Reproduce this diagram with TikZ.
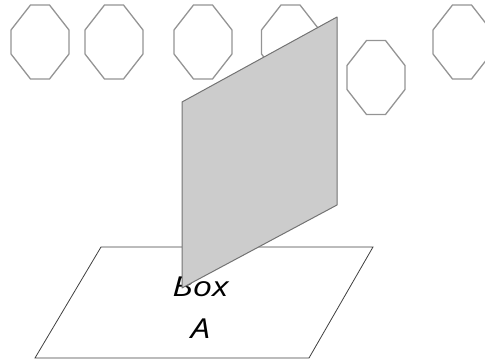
\documentclass[tikz,border=0pt]{standalone}
\usepackage{fontspec}
\setmainfont{Open Sans}
\begin{document}
\begin{tikzpicture}[x=1pt,y=-1pt,
  oct/.style={draw=black!42,line width=1.3pt,line join=round},
  plate/.style={draw=black!75,line width=0.8pt,fill=white},
  panel/.style={draw=black!55,line width=1pt,fill=black!20,line join=round}]
\useasboundingbox (0,0) rectangle (485,363);
\def\octagon#1#2{\draw[oct] (#1-9.5,#2-37) -- (#1+9.5,#2-37) -- (#1+29,#2-12) -- (#1+29,#2+12) -- (#1+9.5,#2+37) -- (#1-9.5,#2+37) -- (#1-29,#2+12) -- (#1-29,#2-12) -- cycle;}
\octagon{40}{42}
\octagon{114}{42}
\octagon{203}{42}
\octagon{290.5}{42}
\octagon{376}{77.5}
\octagon{462}{42}
\draw[plate] (101,247) -- (373,247) -- (309,358) -- (35,358) -- cycle;
\node[font=\itshape\fontsize{27.5}{42}\selectfont,align=center,inner sep=0pt,anchor=base] (boxa) at (200.5,339) {\scalebox{1.25}[1]{Box}\\\scalebox{1.25}[1]{A}};
\draw[panel] (182,102) -- (337,17) -- (337,205) -- (182,288) -- cycle;
\end{tikzpicture}
\end{document}
